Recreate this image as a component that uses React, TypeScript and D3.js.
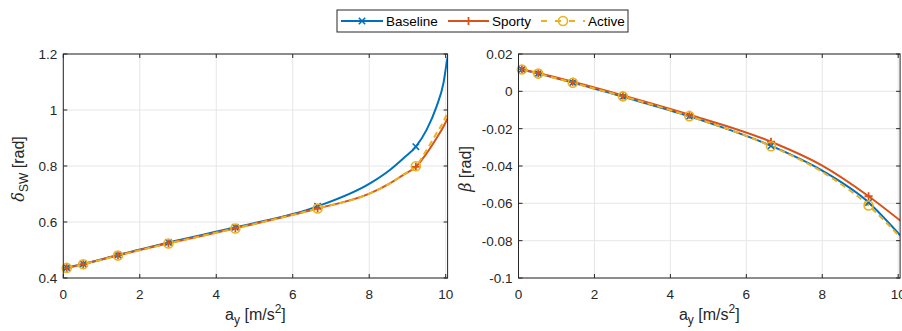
import React from "react";
import * as d3 from "d3";

// ---------- data ----------
const seriesNames = ["Baseline", "Sporty", "Active"];
const seriesColors = ["#0072BD", "#D95319", "#EDB120"];
const markerX = [0.09, 0.52, 1.43, 2.75, 4.5, 6.65, 9.22];

// left plot: steering wheel angle delta_SW [rad]
const leftBaselineX = [0.09, 0.52, 1.43, 2.75, 4.5, 6.65, 8.02, 8.54, 8.89, 9.22, 9.5, 9.76, 9.94, 10.04, 10.07];
const leftBaselineY = [0.437, 0.45, 0.482, 0.527, 0.581, 0.656, 0.738, 0.786, 0.827, 0.869, 0.929, 1.012, 1.095, 1.18, 1.2];
const leftSportyX = [0.09, 0.52, 1.43, 2.75, 4.5, 6.65, 8.02, 8.54, 8.89, 9.22, 9.5, 9.76, 9.94, 10.07];
const leftSportyY = [0.436, 0.449, 0.481, 0.524, 0.578, 0.648, 0.702, 0.738, 0.768, 0.797, 0.845, 0.899, 0.94, 0.976];
const leftActiveX = [0.09, 0.52, 1.43, 2.75, 4.5, 6.65, 8.02, 8.54, 8.89, 9.22, 9.5, 9.76, 9.94, 10.07];
const leftActiveY = [0.436, 0.449, 0.48, 0.523, 0.577, 0.648, 0.702, 0.738, 0.769, 0.799, 0.857, 0.917, 0.958, 1.0];

// right plot: side slip angle beta [rad]
const rightBaselineX = [0.09, 0.52, 1.43, 2.75, 4.5, 6.65, 8.0, 9.22, 10.07];
const rightBaselineY = [0.0117, 0.0096, 0.0047, -0.0029, -0.0134, -0.0292, -0.0425, -0.0595, -0.0775];
const rightSportyX = [0.09, 0.52, 1.43, 2.75, 4.5, 6.65, 8.0, 9.22, 10.07];
const rightSportyY = [0.0118, 0.0098, 0.0051, -0.0022, -0.0125, -0.027, -0.0398, -0.0562, -0.0695];
const rightActiveX = [0.09, 0.52, 1.43, 2.75, 4.5, 6.65, 8.0, 9.22, 10.07];
const rightActiveY = [0.0117, 0.0095, 0.0046, -0.0027, -0.0133, -0.0294, -0.0432, -0.0612, -0.0785];

const xTicks = [0, 2, 4, 6, 8, 10];
const leftYTicks = [0.4, 0.6, 0.8, 1, 1.2];
const leftYTickLabels = ["0.4", "0.6", "0.8", "1", "1.2"];
const rightYTicks = [0.02, 0, -0.02, -0.04, -0.06, -0.08, -0.1];
const rightYTickLabels = ["0.02", "0", "-0.02", "-0.04", "-0.06", "-0.08", "-0.1"];

// ---------- styling ----------
const FONT = "'Liberation Sans', Arial, Helvetica, sans-serif";
const AX = "#262626";
const GRID = "#e6e6e6";
const W = 902;
const H = 331;

type Pt = [number, number];
const zip = (xs: number[], ys: number[]): Pt[] => xs.map((x, i) => [x, ys[i]]);

function Marker({ kind, x, y, color }: { kind: number; x: number; y: number; color: string }) {
  if (kind === 0) {
    const s = 3.2;
    return (
      <path d={`M${x - s},${y - s}L${x + s},${y + s}M${x - s},${y + s}L${x + s},${y - s}`} stroke={color} strokeWidth={1.6} fill="none" />
    );
  }
  if (kind === 1) {
    const s = 4;
    return <path d={`M${x - s},${y}L${x + s},${y}M${x},${y - s}L${x},${y + s}`} stroke={color} strokeWidth={1.8} fill="none" />;
  }
  return <circle cx={x} cy={y} r={4.5} stroke={color} strokeWidth={1.6} fill="none" />;
}

function interp(xs: number[], ys: number[], x: number) {
  for (let i = 0; i < xs.length - 1; i++) {
    if (x >= xs[i] && x <= xs[i + 1]) {
      const t = (x - xs[i]) / (xs[i + 1] - xs[i]);
      return ys[i] + t * (ys[i + 1] - ys[i]);
    }
  }
  return ys[ys.length - 1];
}

function Panel({
  left, right, top, bottom, yDomain, yTicks, yTickLabels, series, ylabel, ylabelX,
}: {
  left: number; right: number; top: number; bottom: number;
  yDomain: [number, number]; yTicks: number[]; yTickLabels: string[];
  series: { xs: number[]; ys: number[] }[];
  ylabel: React.ReactNode; ylabelX: number;
}) {
  const x = d3.scaleLinear().domain([0, 10.05]).range([left, right]);
  const y = d3.scaleLinear().domain(yDomain).range([bottom, top]);
  const line = d3.line<Pt>().x((d) => x(d[0])).y((d) => y(d[1])).curve(d3.curveMonotoneX);
  const clipId = `clip${Math.round(left)}`;
  return (
    <g>
      <defs>
        <clipPath id={clipId}>
          <rect x={left} y={top} width={right - left} height={bottom - top} />
        </clipPath>
      </defs>
      <rect x={left} y={top} width={right - left} height={bottom - top} fill="#fff" />
      {xTicks.map((t) => (
        <line key={`gx${t}`} x1={x(t)} x2={x(t)} y1={top} y2={bottom} stroke={GRID} strokeWidth={1} />
      ))}
      {yTicks.map((t) => (
        <line key={`gy${t}`} x1={left} x2={right} y1={y(t)} y2={y(t)} stroke={GRID} strokeWidth={1} />
      ))}
      <g clipPath={`url(#${clipId})`}>
        {series.map((s, i) => (
          <path
            key={`l${i}`}
            d={line(zip(s.xs, s.ys)) || ""}
            fill="none"
            stroke={seriesColors[i]}
            strokeWidth={2}
            strokeDasharray={i === 2 ? "6,4" : undefined}
          />
        ))}
      </g>
      {series.map((s, i) =>
        markerX.map((mx) => (
          <Marker key={`m${i}-${mx}`} kind={i} x={x(mx)} y={y(interp(s.xs, s.ys, mx))} color={seriesColors[i]} />
        ))
      )}
      <rect x={left} y={top} width={right - left} height={bottom - top} fill="none" stroke={AX} strokeWidth={1} />
      {xTicks.map((t) => (
        <g key={`tx${t}`}>
          <line x1={x(t)} x2={x(t)} y1={bottom} y2={bottom - 4} stroke={AX} />
          <line x1={x(t)} x2={x(t)} y1={top} y2={top + 4} stroke={AX} />
          <text x={x(t)} y={bottom + 21} textAnchor="middle" fontSize={13.5} fill={AX} fontFamily={FONT}>
            {t}
          </text>
        </g>
      ))}
      {yTicks.map((t, i) => (
        <g key={`ty${t}`}>
          <line x1={left} x2={left + 4} y1={y(t)} y2={y(t)} stroke={AX} />
          <line x1={right} x2={right - 4} y1={y(t)} y2={y(t)} stroke={AX} />
          <text x={left - 6} y={y(t) + 5} textAnchor="end" fontSize={13.5} fill={AX} fontFamily={FONT}>
            {yTickLabels[i]}
          </text>
        </g>
      ))}
      <text x={(left + right) / 2} y={320} textAnchor="middle" fontSize={16} fill={AX} fontFamily={FONT}>
        a<tspan fontSize={12} dy={4}>y</tspan>
        <tspan dy={-4}> [m/s</tspan>
        <tspan fontSize={12} dy={-7}>2</tspan>
        <tspan dy={7}>]</tspan>
      </text>
      <g transform={`translate(${ylabelX},${(top + bottom) / 2 + 3}) rotate(-90)`}>
        <text x={0} y={0} textAnchor="middle" fontSize={16} fill={AX} fontFamily={FONT}>
          {ylabel}
        </text>
      </g>
    </g>
  );
}

function Legend() {
  const items = [
    { x0: 341, x1: 383, tx: 386 },
    { x0: 448, x1: 489, tx: 492 },
    { x0: 541, x1: 585, tx: 588 },
  ];
  const cy = 21;
  return (
    <g>
      <rect x={337} y={10} width={291} height={22} fill="#fff" stroke={AX} strokeWidth={1} />
      {items.map((it, i) => (
        <g key={i}>
          <line
            x1={it.x0}
            x2={it.x1}
            y1={cy}
            y2={cy}
            stroke={seriesColors[i]}
            strokeWidth={2}
            strokeDasharray={i === 2 ? "6,8" : undefined}
          />
          <Marker kind={i} x={(it.x0 + it.x1) / 2} y={cy} color={seriesColors[i]} />
          <text x={it.tx} y={cy + 5} fontSize={13.5} fill="#000" fontFamily={FONT}>
            {seriesNames[i]}
          </text>
        </g>
      ))}
    </g>
  );
}

export default function App() {
  const leftSeries = [
    { xs: leftBaselineX, ys: leftBaselineY },
    { xs: leftSportyX, ys: leftSportyY },
    { xs: leftActiveX, ys: leftActiveY },
  ];
  const rightSeries = [
    { xs: rightBaselineX, ys: rightBaselineY },
    { xs: rightSportyX, ys: rightSportyY },
    { xs: rightActiveX, ys: rightActiveY },
  ];
  return (
    <div style={{ position: "absolute", left: 0, top: 0 }}>
      <svg width={W} height={H} style={{ display: "block", background: "#fff" }}>
        <rect x={0} y={0} width={W} height={H} fill="#fff" />
        <Panel
          left={63.3}
          right={447.6}
          top={54}
          bottom={278}
          yDomain={[0.4, 1.2]}
          yTicks={leftYTicks}
          yTickLabels={leftYTickLabels}
          series={leftSeries}
          ylabelX={24}
          ylabel={
            <>
              <tspan fontStyle="italic" fontFamily="'DejaVu Serif', serif">δ</tspan>
              <tspan fontSize={12} dy={4}>SW</tspan>
              <tspan dy={-4}> [rad]</tspan>
            </>
          }
        />
        <Panel
          left={518.5}
          right={900.1}
          top={54}
          bottom={278}
          yDomain={[-0.1, 0.02]}
          yTicks={rightYTicks}
          yTickLabels={rightYTickLabels}
          series={rightSeries}
          ylabelX={471}
          ylabel={
            <>
              <tspan fontStyle="italic" fontFamily="'DejaVu Serif', serif">β</tspan>
              <tspan> [rad]</tspan>
            </>
          }
        />
        <Legend />
      </svg>
    </div>
  );
}
